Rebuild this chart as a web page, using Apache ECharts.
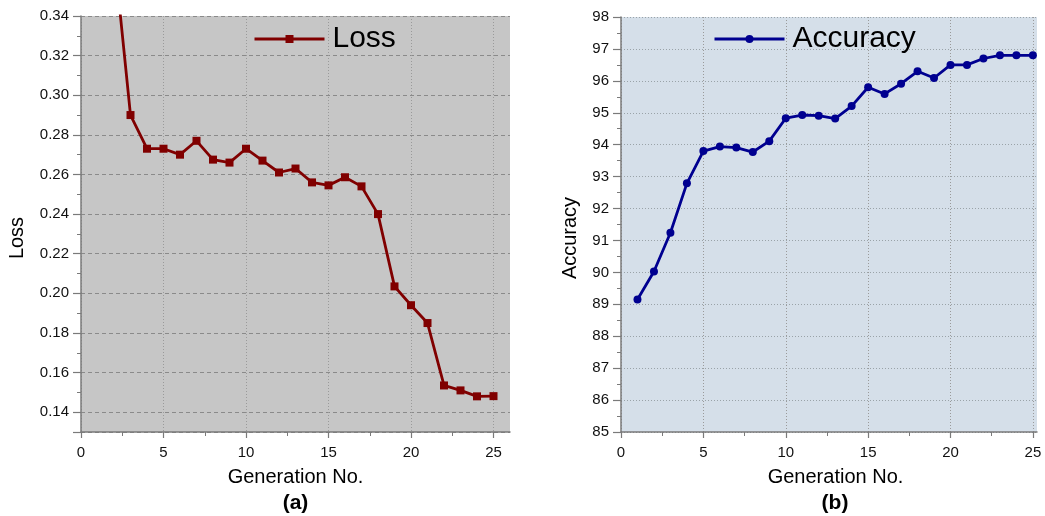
<!DOCTYPE html>
<html>
<head>
<meta charset="utf-8">
<script src="https://cdn.jsdelivr.net/npm/echarts@6/dist/echarts.min.js"></script>
<style>
html,body{margin:0;padding:0;background:#fff;}
#chart{width:1045px;height:516px;}
</style>
</head>
<body>
<div id="chart"></div>
<script>
const generations = [1,2,3,4,5,6,7,8,9,10,11,12,13,14,15,16,17,18,19,20,21,22,23,24,25];
const lossValues = [0.45,0.372,0.290,0.273,0.273,0.270,0.277,0.2675,0.266,0.273,0.267,0.261,0.263,0.256,0.2545,0.2586,0.254,0.240,0.2035,0.194,0.185,0.1535,0.151,0.148,0.1481];
const accuracyValues = [89.15,90.03,91.24,92.79,93.80,93.94,93.91,93.77,94.11,94.83,94.93,94.91,94.82,95.21,95.80,95.59,95.91,96.30,96.09,96.50,96.50,96.70,96.80,96.80,96.80];
const xTickLabels = [0,5,10,15,20,25];
const lossTitle = 'Loss';
const accTitle = 'Accuracy';
const xTitle = 'Generation No.';
const panelLabels = ['(a)','(b)'];

const FONT = '"Liberation Sans", Arial, sans-serif';
const axisColor = '#7a7a7a';

function xAxisCfg(gridIndex, max, splitType) {
  return {
    type: 'value', gridIndex: gridIndex, min: 0, max: max, interval: 5,
    axisLine: {show: true, onZero: false, lineStyle: {color: axisColor, width: 1.5}},
    axisTick: {show: true, length: 6, customValues: xTickLabels, lineStyle: {color: axisColor, width: 1.2}},
    minorTick: {show: true, splitNumber: 2, length: 4, lineStyle: {color: axisColor, width: 1}},
    axisLabel: {customValues: xTickLabels, margin: 13, fontSize: 15, color: '#111', fontFamily: FONT},
    splitLine: {show: true, lineStyle: {color: '#9a9a9a', type: splitType, width: 1}},
    minorSplitLine: {show: false}
  };
}

const option = {
  animation: false,
  backgroundColor: '#ffffff',
  grid: [
    {left: 81, top: 16, right: 535, bottom: 84, show: true, backgroundColor: '#c6c6c6', borderWidth: 0, containLabel: false},
    {left: 621, top: 17, right: 8, bottom: 84, show: true, backgroundColor: '#d5dfe9', borderWidth: 0, containLabel: false}
  ],
  xAxis: [
    xAxisCfg(0, 26, [1, 2]),
    xAxisCfg(1, 25.25, [1, 2])
  ],
  yAxis: [
    {
      type: 'value', gridIndex: 0, min: 0.13, max: 0.34, splitNumber: 10,
      axisLine: {show: true, lineStyle: {color: axisColor, width: 1.5}},
      axisTick: {show: true, length: 8, lineStyle: {color: axisColor, width: 1.2}},
      minorTick: {show: true, splitNumber: 2, length: 4, lineStyle: {color: axisColor, width: 1}},
      axisLabel: {margin: 12, fontSize: 15, color: '#111', fontFamily: FONT, showMinLabel: false,
        formatter: function (v) { return v.toFixed(2); }},
      splitLine: {show: true, lineStyle: {color: '#8a8a8a', type: [4, 3], width: 1}}
    },
    {
      type: 'value', gridIndex: 1, min: 85, max: 98, interval: 1,
      axisLine: {show: true, lineStyle: {color: axisColor, width: 1.5}},
      axisTick: {show: true, length: 8, lineStyle: {color: axisColor, width: 1.2}},
      minorTick: {show: true, splitNumber: 2, length: 4, lineStyle: {color: axisColor, width: 1}},
      axisLabel: {margin: 12, fontSize: 15, color: '#111', fontFamily: FONT},
      splitLine: {show: true, lineStyle: {color: '#9aa3a8', type: [1, 2], width: 1}}
    }
  ],
  legend: [
    {
      data: [lossTitle], left: 253, top: 24, padding: 0,
      itemWidth: 70, itemHeight: 10, itemGap: 0,
      lineStyle: {width: 3},
      textStyle: {fontSize: 30, color: '#000', fontFamily: FONT, padding: [0, 0, 0, 3]}
    },
    {
      data: [accTitle], left: 713, top: 24, padding: 0,
      itemWidth: 70, itemHeight: 10, itemGap: 0,
      lineStyle: {width: 3},
      textStyle: {fontSize: 30, color: '#000', fontFamily: FONT, padding: [0, 0, 0, 3]}
    }
  ],
  series: [
    {
      name: lossTitle, type: 'line', xAxisIndex: 0, yAxisIndex: 0,
      data: generations.map(function (g, i) { return [g, lossValues[i]]; }),
      symbol: 'rect', symbolSize: 8, clip: true,
      lineStyle: {color: '#800000', width: 2.8},
      itemStyle: {color: '#800000'}
    },
    {
      name: accTitle, type: 'line', xAxisIndex: 1, yAxisIndex: 1,
      data: generations.map(function (g, i) { return [g, accuracyValues[i]]; }),
      symbol: 'circle', symbolSize: 8, clip: true,
      lineStyle: {color: '#000090', width: 2.8},
      itemStyle: {color: '#000090'}
    }
  ],
  graphic: [
    {type: 'text', x: 295.5, y: 477, style: {text: xTitle, font: '20px ' + FONT, fill: '#000', textAlign: 'center', textVerticalAlign: 'middle'}},
    {type: 'text', x: 835.5, y: 477, style: {text: xTitle, font: '20px ' + FONT, fill: '#000', textAlign: 'center', textVerticalAlign: 'middle'}},
    {type: 'text', x: 295.5, y: 503, style: {text: panelLabels[0], font: 'bold 21px ' + FONT, fill: '#000', textAlign: 'center', textVerticalAlign: 'middle'}},
    {type: 'text', x: 835, y: 503, style: {text: panelLabels[1], font: 'bold 21px ' + FONT, fill: '#000', textAlign: 'center', textVerticalAlign: 'middle'}},
    {type: 'text', x: 17, y: 238, rotation: Math.PI / 2, style: {text: lossTitle, font: '20px ' + FONT, fill: '#000', textAlign: 'center', textVerticalAlign: 'middle'}},
    {type: 'text', x: 570, y: 238, rotation: Math.PI / 2, style: {text: accTitle, font: '20px ' + FONT, fill: '#000', textAlign: 'center', textVerticalAlign: 'middle'}}
  ]
};

const chart = echarts.init(document.getElementById('chart'), null, {renderer: 'canvas'});
chart.setOption(option);
</script>
</body>
</html>
